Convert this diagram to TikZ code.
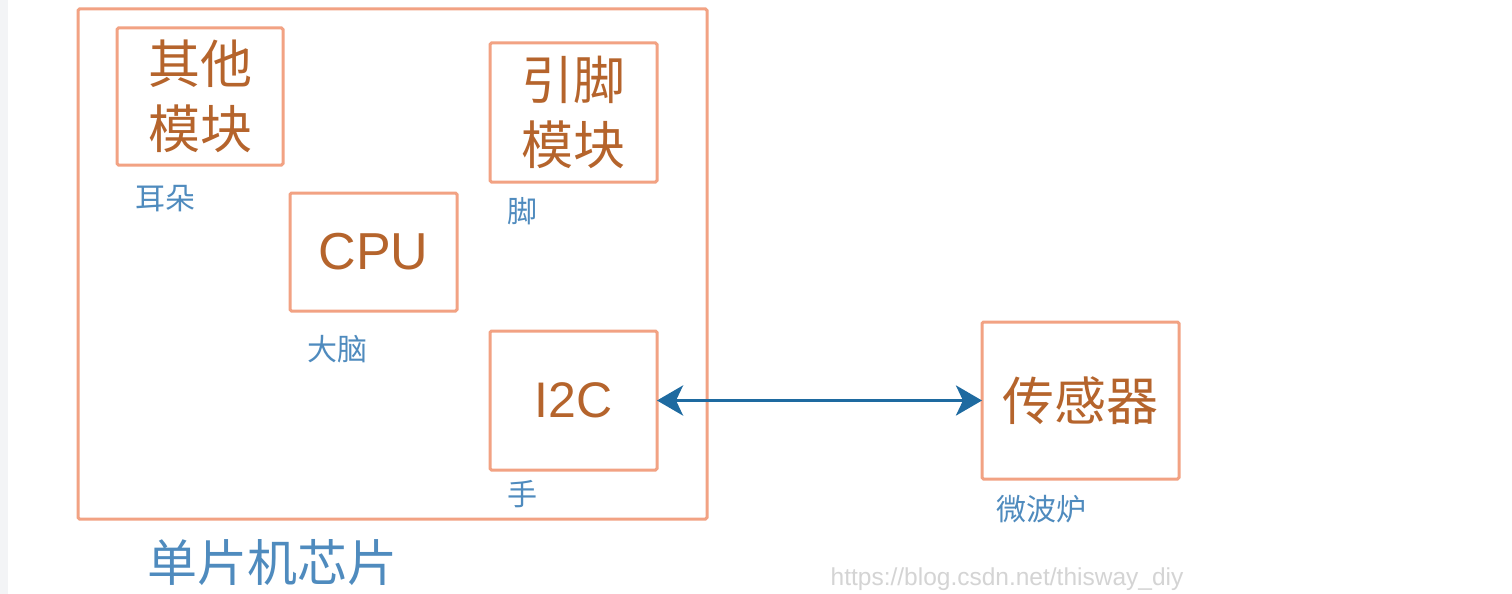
\documentclass[tikz,border=0pt]{standalone}
\usepackage{fontspec}
\setmainfont{Liberation Sans}
\newfontfamily\cjk{Noto Sans CJK SC}
\usetikzlibrary{arrows.meta}
\definecolor{boxline}{HTML}{F2A283}
\definecolor{boxtext}{HTML}{B5642C}
\definecolor{labblue}{HTML}{4F8BBE}
\definecolor{arrblue}{HTML}{1E6AA0}
\definecolor{strip}{HTML}{F3F4F6}
\definecolor{wm}{HTML}{D4D4D4}
\tikzset{
  x=1pt, y=-1pt,
  blk/.style={draw=boxline, line width=3pt, rounded corners=1.5pt, inner sep=0pt, text=boxtext, align=center},
  bigcjk/.style={font=\cjk\fontsize{52}{65}\selectfont},
  latin/.style={font=\fontsize{52}{56}\selectfont},
  lab/.style={inner sep=0pt, text=labblue, font=\cjk\fontsize{30}{34}\selectfont},
  link/.style={arrblue, line width=3.5pt, >={Stealth[length=26pt,width=30pt,inset=7pt]}, <->},
}
\begin{document}
\begin{tikzpicture}
\useasboundingbox (0,0) rectangle (1512,594);
\fill[white] (0,0) rectangle (1512,594);
\fill[strip] (0,0) rectangle (8,594);
% outer chip
\node[blk, minimum width=629pt, minimum height=510pt] (chip) at (392.5,264) {};
\node[blk, bigcjk, minimum width=166pt, minimum height=137pt] (other) at (200,96.5) {其他\\模块};
\node[blk, bigcjk, minimum width=167pt, minimum height=139pt] (pin) at (573.5,112.5) {引脚\\模块};
\node[blk, latin, minimum width=167pt, minimum height=118pt] (cpu) at (373.5,252) {CPU};
\node[blk, latin, font=\fontsize{50}{54}\selectfont, minimum width=167pt, minimum height=139pt] (i2c) at (573.5,400.5) {I2C};
\node[blk, bigcjk, minimum width=197pt, minimum height=157pt] (sensor) at (1080.5,400.5) {传感器};
% labels
\node[lab] (ear) at (165,199) {耳朵};
\node[lab] (foot) at (522,211) {脚};
\node[lab] (brain) at (337,349) {大脑};
\node[lab] (hand) at (522,494) {手};
\node[lab] (micro) at (1041,509) {微波炉};
\node[inner sep=0pt, text=labblue, font=\cjk\fontsize{50}{54}\selectfont] (chipname) at (272,563) {单片机芯片};
\node[inner sep=0pt, text=wm, font=\fontsize{24.5}{26}\selectfont] (wmark) at (1007,579) {https://blog.csdn.net/thisway\_diy};
% connector
\draw[link, shorten <=-1.5pt, shorten >=-1.5pt] (i2c.east) -- (sensor.west);
\end{tikzpicture}
\end{document}
